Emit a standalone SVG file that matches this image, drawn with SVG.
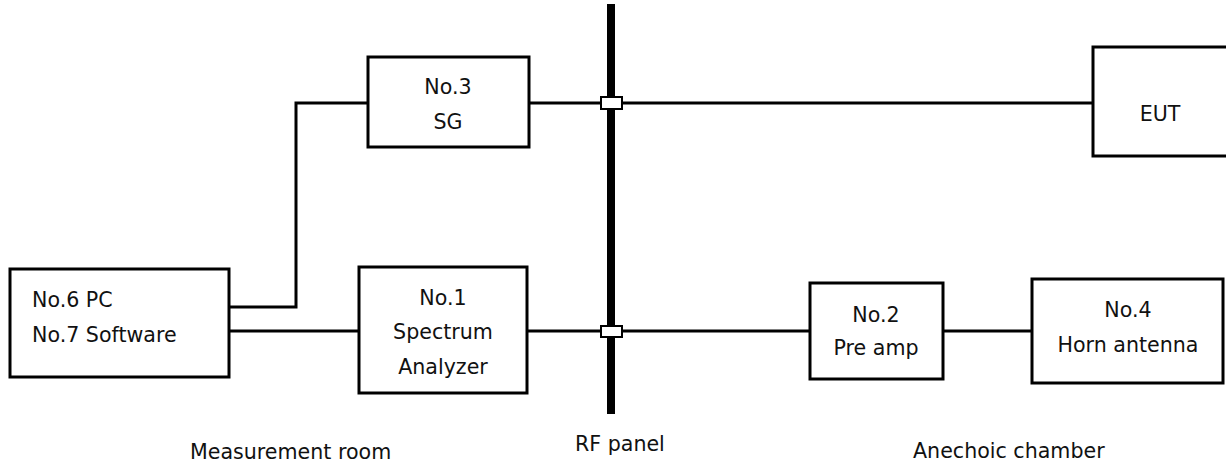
<svg xmlns="http://www.w3.org/2000/svg" width="1226" height="468" viewBox="0 0 1226 468">
<style>
.box{fill:#fff;stroke:#000;stroke-width:3}
.ln{fill:none;stroke:#000;stroke-width:3}
.jn{fill:#fff;stroke:#000;stroke-width:2}
text{font-family:"DejaVu Sans","Liberation Sans",sans-serif;font-size:20.6px;fill:#111}
.c{text-anchor:middle}
</style>
<rect x="0" y="0" width="1226" height="468" fill="#fff"/>
<g id="connectors">
<polyline class="ln" points="229,307 296,307 296,103 368,103"/>
<line class="ln" x1="229" y1="331" x2="359" y2="331"/>
<line class="ln" x1="529" y1="103" x2="1093" y2="103"/>
<line class="ln" x1="527" y1="331" x2="810" y2="331"/>
<line class="ln" x1="943" y1="331" x2="1032" y2="331"/>
</g>
<g id="rf-panel">
<rect x="607" y="4" width="8" height="410" fill="#000"/>
<rect class="jn" x="601" y="97" width="21" height="12"/>
<rect class="jn" x="601" y="326" width="21" height="11"/>
<text x="575" y="451">RF panel</text>
</g>
<g id="pc">
<rect class="box" x="10" y="269" width="219" height="108"/>
<text x="32" y="307">No.6 PC</text>
<text x="32" y="342">No.7 Software</text>
</g>
<g id="sg">
<rect class="box" x="368" y="57" width="161" height="90"/>
<text class="c" x="448" y="94">No.3</text>
<text class="c" x="448" y="129">SG</text>
</g>
<g id="spectrum-analyzer">
<rect class="box" x="359" y="267" width="168" height="126"/>
<text class="c" x="443" y="305">No.1</text>
<text class="c" x="443" y="339">Spectrum</text>
<text class="c" x="443" y="374">Analyzer</text>
</g>
<g id="eut">
<rect class="box" x="1093" y="47" width="140" height="109"/>
<text class="c" x="1160" y="121">EUT</text>
</g>
<g id="pre-amp">
<rect class="box" x="810" y="283" width="133" height="96"/>
<text class="c" x="876" y="322">No.2</text>
<text class="c" x="876" y="355">Pre amp</text>
</g>
<g id="horn-antenna">
<rect class="box" x="1032" y="279" width="191" height="104"/>
<text class="c" x="1128" y="317">No.4</text>
<text class="c" x="1128" y="352">Horn antenna</text>
</g>
<g id="labels">
<text x="190" y="459">Measurement room</text>
<text x="913" y="458">Anechoic chamber</text>
</g>
</svg>
